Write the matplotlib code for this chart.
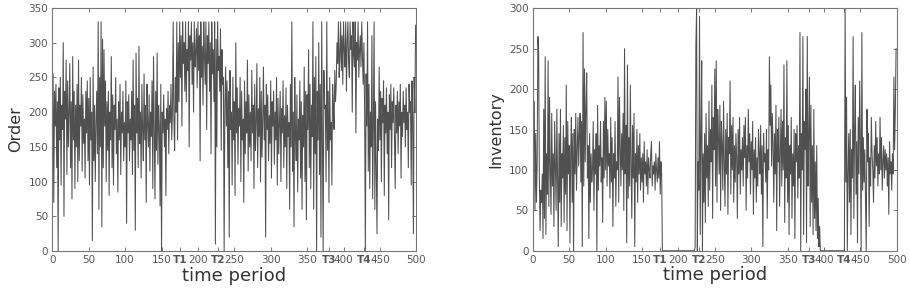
import numpy as np
import matplotlib
matplotlib.use('Agg')
import matplotlib.pyplot as plt

#%% data

order = [
    140, 255, 70, 230, 180, 240, 120, 215, 0, 235, 160, 250, 95, 210, 175, 300, 50, 230, 190, 275, 110, 245, 150, 200, 270,
    120, 215, 75, 280, 160, 230, 90, 210, 150, 240, 100, 275, 130, 210, 180, 250, 115, 225, 155, 190, 105, 230, 170, 245, 130,
    220, 95, 250, 160, 200, 15, 265, 130, 210, 100, 185, 230, 140, 330, 60, 250, 150, 330, 35, 305, 120, 290, 180, 245, 100,
    215, 145, 230, 80, 200, 160, 280, 120, 225, 95, 210, 175, 250, 140, 190, 85, 215, 160, 240, 110, 200, 170, 230, 130, 185,
    150, 245, 40, 215, 170, 225, 130, 190, 160, 230, 110, 275, 145, 210, 30, 285, 170, 220, 120, 295, 155, 200, 105, 240, 175,
    130, 255, 160, 210, 70, 240, 185, 150, 225, 115, 200, 165, 245, 90, 280, 175, 75, 230, 145, 285, 125, 210, 180, 65, 240,
    0, 200, 170, 225, 150, 190, 80, 205, 175, 230, 140, 210, 185, 240, 160, 200, 330, 190, 145, 250, 200, 330, 160, 300, 215,
    330, 250, 310, 180, 330, 270, 300, 230, 330, 215, 290, 260, 330, 150, 310, 275, 330, 240, 300, 200, 330, 265, 285, 320, 235,
    330, 260, 310, 130, 330, 250, 295, 210, 330, 280, 240, 330, 175, 310, 270, 330, 230, 300, 140, 330, 255, 290, 215, 330, 10,
    305, 150, 330, 260, 280, 230, 320, 145, 290, 240, 250, 0, 210, 265, 180, 245, 120, 230, 20, 260, 175, 200, 95, 250, 160,
    215, 80, 300, 170, 235, 125, 205, 180, 250, 100, 230, 160, 190, 70, 245, 140, 215, 170, 275, 115, 225, 150, 200, 130, 260,
    170, 210, 90, 240, 145, 185, 270, 120, 205, 165, 250, 100, 230, 135, 190, 265, 160, 210, 20, 240, 175, 225, 130, 195, 155,
    245, 105, 215, 180, 230, 125, 200, 160, 250, 95, 220, 140, 185, 230, 100, 205, 170, 245, 120, 195, 150, 235, 90, 210, 165,
    185, 60, 240, 150, 330, 115, 200, 35, 250, 170, 130, 225, 85, 190, 160, 245, 105, 215, 60, 195, 150, 265, 100, 230, 45,
    225, 175, 290, 120, 240, 90, 210, 165, 330, 60, 250, 140, 280, 0, 230, 160, 300, 110, 240, 20, 330, 175, 0, 260, 205,
    210, 100, 330, 145, 230, 70, 250, 160, 185, 95, 240, 210, 175, 260, 215, 240, 300, 270, 330, 250, 280, 330, 260, 310, 240,
    330, 290, 265, 330, 230, 300, 330, 270, 250, 330, 290, 310, 200, 330, 285, 265, 330, 170, 300, 275, 330, 250, 290, 310, 265,
    330, 280, 240, 300, 200, 0, 255, 180, 330, 115, 240, 90, 200, 150, 310, 75, 180, 330, 60, 215, 120, 25, 190, 145, 265,
    160, 230, 100, 220, 185, 245, 80, 210, 170, 235, 140, 200, 45, 225, 175, 240, 120, 215, 185, 235, 160, 90, 210, 170, 230,
    140, 215, 180, 240, 105, 200, 165, 230, 185, 210, 150, 235, 175, 200, 120, 240, 200, 215, 95, 245, 190, 25, 250, 200, 325,
]

inventory = [
    200, 125, 185, 50, 145, 60, 110, 265, 245, 90, 25, 75, 60, 95, 15, 175, 40, 240, 20, 120, 70, 235, 55, 190, 100,
    45, 170, 80, 120, 30, 160, 105, 50, 175, 90, 5, 145, 60, 175, 30, 120, 90, 155, 35, 140, 70, 205, 25, 160, 95,
    130, 10, 120, 165, 60, 145, 0, 150, 95, 170, 75, 125, 165, 105, 145, 170, 85, 160, 5, 270, 80, 225, 110, 175, 220,
    90, 130, 15, 145, 60, 120, 85, 100, 160, 50, 125, 95, 145, 0, 180, 75, 130, 105, 160, 85, 115, 35, 160, 90, 190,
    100, 185, 80, 150, 105, 120, 65, 165, 85, 140, 30, 120, 90, 160, 55, 110, 100, 215, 60, 190, 130, 80, 145, 100, 170,
    50, 250, 95, 155, 10, 230, 65, 140, 80, 205, 105, 40, 155, 90, 170, 5, 120, 85, 150, 60, 130, 95, 145, 75, 115,
    85, 120, 60, 135, 95, 110, 80, 125, 70, 115, 100, 90, 120, 135, 80, 105, 95, 110, 75, 120, 100, 85, 115, 90, 135,
    70, 110, 95, 0, 0, 0, 0, 0, 0, 0, 0, 0, 0, 0, 0, 0, 0, 0, 0, 0, 0, 0, 0, 0, 0,
    0, 0, 0, 0, 0, 0, 0, 0, 0, 0, 0, 0, 0, 0, 0, 0, 0, 0, 0, 0, 0, 0, 0, 5, 255,
    300, 0, 110, 75, 290, 20, 140, 235, 0, 120, 60, 145, 35, 170, 90, 130, 55, 185, 75, 150, 110, 205, 40, 165, 125,
    225, 80, 235, 60, 175, 140, 95, 180, 50, 160, 130, 75, 185, 110, 55, 150, 95, 170, 45, 140, 120, 210, 70, 155, 100,
    165, 60, 130, 85, 145, 115, 40, 150, 95, 165, 70, 125, 100, 140, 80, 155, 115, 165, 50, 130, 90, 175, 110, 145, 70,
    135, 100, 160, 45, 125, 90, 140, 60, 115, 80, 150, 120, 95, 155, 70, 130, 5, 145, 110, 120, 85, 150, 40, 125, 100,
    240, 155, 205, 105, 170, 130, 60, 145, 95, 180, 25, 150, 110, 165, 55, 120, 175, 80, 160, 100, 230, 35, 140, 90, 235,
    60, 155, 20, 130, 95, 165, 40, 120, 80, 150, 15, 145, 110, 155, 65, 130, 90, 270, 0, 145, 100, 265, 20, 160, 125,
    200, 10, 265, 80, 140, 215, 30, 180, 60, 130, 20, 175, 40, 110, 25, 130, 15, 65, 5, 30, 0, 0, 0, 0, 0,
    0, 0, 0, 0, 0, 0, 0, 0, 0, 0, 0, 0, 0, 0, 0, 0, 0, 0, 0, 0, 0, 0, 0, 0, 0,
    0, 0, 0, 0, 300, 85, 190, 0, 95, 145, 60, 150, 20, 125, 90, 265, 40, 150, 205, 70, 135, 10, 165, 95, 210,
    130, 0, 270, 75, 140, 85, 125, 60, 0, 175, 110, 145, 30, 115, 80, 165, 120, 100, 60, 130, 90, 160, 105, 140, 80,
    120, 95, 165, 100, 140, 75, 110, 130, 90, 125, 100, 120, 80, 115, 45, 135, 95, 110, 75, 120, 95, 215, 125, 175, 250,
]

x_ticks = [0, 50, 100, 150, 200, 250, 300, 350, 400, 450, 500]
t_pos = [175, 228, 380, 428]
t_labels = ['T1', 'T2', 'T3', 'T4']

#%% plot

fig = plt.figure(figsize=(9.1, 2.94), dpi=100)
ax1 = fig.add_axes([0.0575, 0.146, 0.4, 0.827])
ax2 = fig.add_axes([0.5855, 0.147, 0.4, 0.825])

panels = [(ax1, order, 'Order', 350), (ax2, inventory, 'Inventory', 300)]
for ax, y, name, ymax in panels:
    ax.plot(np.arange(len(y)), y, color='#505050', lw=0.75)
    ax.set_xlim(0, 500)
    ax.set_ylim(0, ymax)
    ax.set_yticks(range(0, ymax + 1, 50))
    ax.set_xticks(x_ticks + t_pos)
    ax.set_xticklabels([str(v) for v in x_ticks] + t_labels)
    for lab in ax.get_xticklabels():
        if lab.get_text().startswith('T'):
            lab.set_fontweight('bold')
            lab.set_color('#222222')
    ax.tick_params(direction='in', top=True, right=True, length=3, width=0.6,
                   labelsize=7.5, labelcolor='#555555', color='#666666', pad=3)
    for s in ax.spines.values():
        s.set_color('#777777')
        s.set_linewidth(0.8)
    ax.set_ylabel(name, fontsize=11.5, color='#333333', labelpad=4)
    ax.set_xlabel('time period', fontsize=13, color='#333333', labelpad=1)

fig.savefig('out.png', dpi=100)
